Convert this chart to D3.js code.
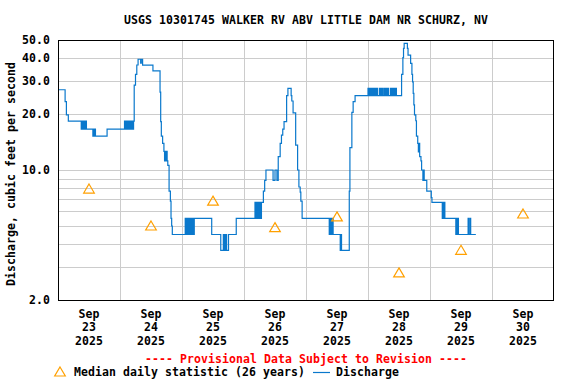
<!DOCTYPE html>
<html>
<head>
<meta charset="utf-8">
<script src="https://cdn.jsdelivr.net/npm/d3@7"></script>
<style>
  body { margin: 0; background: #fff; }
  text { font-family: "DejaVu Sans Mono", monospace; font-weight: bold; font-size: 11.5px; letter-spacing: 0.08px; }
</style>
</head>
<body>
<div id="chart"></div>
<script>
// chart data
const title = 'USGS 10301745 WALKER RV ABV LITTLE DAM NR SCHURZ, NV';
const yLabel = 'Discharge, cubic feet per second';
const yTicks = [2, 10, 20, 30, 40, 50];
const yGrid = [3, 4, 5, 6, 7, 8, 9, 10, 20, 30, 40];
const days = ['2025-09-23', '2025-09-24', '2025-09-25', '2025-09-26', '2025-09-27', '2025-09-28', '2025-09-29', '2025-09-30'];
const medianValues = [7.9, 5.0, 6.8, 4.9, 5.6, 2.8, 3.7, 5.8];

// 15-minute discharge, only the points where the value changes
const discharge = [
  ['09-23 00:00', 27.0], ['09-23 02:45', 23.3], ['09-23 03:15', 19.8], ['09-23 04:00', 18.3],
  ['09-23 09:00', 16.6], ['09-23 09:15', 18.3], ['09-23 09:30', 16.6], ['09-23 09:45', 18.3], ['09-23 10:00', 16.6],
  ['09-23 10:15', 18.3], ['09-23 10:30', 16.6], ['09-23 10:45', 18.3], ['09-23 11:00', 16.6],
  ['09-23 13:30', 15.2], ['09-23 13:45', 16.6], ['09-23 14:00', 15.2], ['09-23 14:15', 16.6], ['09-23 14:30', 15.2],
  ['09-23 19:00', 16.6],
  ['09-24 01:45', 18.3], ['09-24 02:00', 16.6], ['09-24 02:15', 18.3], ['09-24 02:30', 16.6], ['09-24 02:45', 18.3],
  ['09-24 03:00', 16.6], ['09-24 03:15', 18.3], ['09-24 03:30', 16.6], ['09-24 03:45', 18.3], ['09-24 04:00', 16.6],
  ['09-24 04:15', 18.3], ['09-24 04:30', 16.6], ['09-24 04:45', 18.3], ['09-24 05:00', 16.6], ['09-24 05:15', 18.3],
  ['09-24 05:30', 28.6], ['09-24 06:00', 32.7], ['09-24 06:30', 36.7], ['09-24 07:00', 39.4], ['09-24 08:00', 37.5],
  ['09-24 08:15', 39.4], ['09-24 08:45', 36.6], ['09-24 12:45', 34.1], ['09-24 15:30', 26.2], ['09-24 15:45', 18.2],
  ['09-24 16:00', 15.2], ['09-24 16:30', 13.9], ['09-24 17:00', 12.6], ['09-24 17:15', 11.2], ['09-24 17:30', 12.6],
  ['09-24 17:45', 11.2], ['09-24 18:00', 12.6], ['09-24 18:15', 11.2], ['09-24 18:30', 10.6], ['09-24 19:00', 7.7],
  ['09-24 19:30', 6.8], ['09-24 19:45', 5.5], ['09-24 20:00', 5.0], ['09-24 20:15', 4.5],
  ['09-25 01:15', 5.5], ['09-25 01:30', 4.5], ['09-25 01:45', 5.5], ['09-25 02:00', 4.5], ['09-25 02:15', 5.5],
  ['09-25 02:30', 4.5], ['09-25 02:45', 5.5], ['09-25 03:00', 4.5], ['09-25 03:15', 5.5], ['09-25 03:30', 4.5],
  ['09-25 03:45', 5.5], ['09-25 04:00', 4.5], ['09-25 04:15', 5.5], ['09-25 04:30', 4.5], ['09-25 04:45', 5.5],
  ['09-25 11:30', 4.5], ['09-25 15:00', 3.7], ['09-25 16:00', 4.5], ['09-25 16:15', 3.7], ['09-25 16:30', 4.5],
  ['09-25 16:45', 3.7], ['09-25 17:00', 4.5], ['09-25 17:15', 3.7], ['09-25 18:00', 4.5], ['09-25 21:00', 5.5],
  ['09-26 04:15', 6.7], ['09-26 04:30', 5.5], ['09-26 04:45', 6.7], ['09-26 05:00', 5.5], ['09-26 05:15', 6.7],
  ['09-26 05:30', 5.5], ['09-26 05:45', 6.7], ['09-26 06:00', 5.5], ['09-26 06:15', 6.7], ['09-26 06:30', 5.5],
  ['09-26 06:45', 6.7], ['09-26 07:30', 7.7], ['09-26 08:00', 8.8], ['09-26 08:30', 10.0], ['09-26 11:15', 8.8],
  ['09-26 12:00', 10.0], ['09-26 12:45', 8.8], ['09-26 13:15', 11.8], ['09-26 14:00', 13.9], ['09-26 14:30', 15.4],
  ['09-26 15:00', 16.6], ['09-26 15:30', 18.2], ['09-26 16:30', 25.1], ['09-26 17:00', 27.5], ['09-26 18:15', 25.1],
  ['09-26 18:30', 23.5], ['09-26 19:00', 20.3], ['09-26 20:00', 13.6], ['09-26 20:45', 10.0], ['09-26 21:15', 8.1],
  ['09-26 21:45', 7.6], ['09-26 22:00', 6.8], ['09-26 22:30', 5.5],
  ['09-27 09:00', 4.5], ['09-27 09:15', 5.5], ['09-27 09:30', 4.5], ['09-27 09:45', 5.5], ['09-27 10:00', 4.5],
  ['09-27 10:15', 5.5], ['09-27 10:30', 4.5], ['09-27 13:15', 3.7], ['09-27 13:30', 4.5], ['09-27 13:45', 3.7],
  ['09-27 16:45', 7.7], ['09-27 17:00', 13.2], ['09-27 17:45', 20.4], ['09-27 18:15', 23.3], ['09-27 19:00', 25.1],
  ['09-28 00:00', 27.5], ['09-28 00:15', 25.1], ['09-28 00:30', 27.5], ['09-28 00:45', 25.1], ['09-28 01:00', 27.5],
  ['09-28 01:15', 25.1], ['09-28 01:30', 27.5], ['09-28 01:45', 25.1], ['09-28 02:00', 27.5], ['09-28 02:15', 25.1],
  ['09-28 02:30', 27.5], ['09-28 02:45', 25.1], ['09-28 03:00', 27.5], ['09-28 03:15', 25.1], ['09-28 03:30', 27.5],
  ['09-28 03:45', 25.1], ['09-28 04:30', 27.5], ['09-28 04:45', 25.1], ['09-28 05:00', 27.5], ['09-28 05:15', 25.1],
  ['09-28 05:30', 27.5], ['09-28 05:45', 25.1], ['09-28 06:15', 27.5], ['09-28 06:30', 25.1], ['09-28 06:45', 27.5],
  ['09-28 07:00', 25.1], ['09-28 07:15', 27.5], ['09-28 07:30', 25.1], ['09-28 07:45', 27.5], ['09-28 08:00', 25.1],
  ['09-28 08:45', 27.5], ['09-28 09:00', 25.1], ['09-28 09:15', 27.5], ['09-28 09:30', 25.1], ['09-28 09:45', 27.5],
  ['09-28 10:00', 25.1], ['09-28 10:15', 27.5], ['09-28 10:30', 25.1], ['09-28 10:45', 27.5], ['09-28 11:00', 25.1],
  ['09-28 13:00', 32.7], ['09-28 13:30', 40.2], ['09-28 13:45', 45.1], ['09-28 14:00', 48.0], ['09-28 15:15', 45.1],
  ['09-28 15:30', 41.5], ['09-28 16:30', 37.4], ['09-28 17:00', 32.7], ['09-28 17:15', 29.8], ['09-28 17:30', 25.8],
  ['09-28 17:45', 22.4], ['09-28 18:00', 19.8], ['09-28 18:30', 18.4], ['09-28 18:45', 15.2], ['09-28 19:15', 13.9],
  ['09-28 19:30', 12.5], ['09-28 19:45', 13.9], ['09-28 20:00', 11.8], ['09-28 20:30', 11.2], ['09-28 20:45', 10.0],
  ['09-28 21:15', 8.8], ['09-28 21:30', 10.0], ['09-28 21:45', 8.8], ['09-28 22:45', 7.7],
  ['09-29 00:30', 7.1], ['09-29 00:45', 6.7], ['09-29 04:45', 5.5], ['09-29 05:00', 6.7], ['09-29 05:15', 5.5],
  ['09-29 05:30', 6.7], ['09-29 05:45', 5.5], ['09-29 10:00', 4.5], ['09-29 10:15', 5.5], ['09-29 10:30', 4.5],
  ['09-29 10:45', 5.5], ['09-29 11:00', 4.5], ['09-29 14:45', 5.5], ['09-29 15:00', 4.5], ['09-29 15:30', 5.5],
  ['09-29 15:45', 4.5], ['09-29 17:45', 4.5]
];

const width = 576;
const height = 384;
const marginTop = 40;
const marginRight = 22;
const marginBottom = 84;
const marginLeft = 58;

const parseTime = d3.timeParse('%Y-%m-%d %H:%M');
const parseDay = d3.timeParse('%Y-%m-%d');
const series = discharge.map(d => ({ t: parseTime('2025-' + d[0]), v: d[1] }));
const noon = days.map(d => d3.timeHour.offset(parseDay(d), 12));

const svg = d3.select('#chart')
  .append('svg')
  .attr('width', width)
  .attr('height', height);

const x = d3.scaleTime()
  .domain([parseDay('2025-09-23'), parseDay('2025-10-01')])
  .range([marginLeft, width - marginRight]);

const y = d3.scaleLog()
  .domain([2, 50])
  .range([height - marginBottom, marginTop]);

// grid
svg.append('g')
  .attr('stroke', '#cccccc')
  .attr('shape-rendering', 'crispEdges')
  .selectAll('line')
  .data(yGrid)
  .join('line')
  .attr('x1', marginLeft).attr('x2', width - marginRight)
  .attr('y1', d => Math.round(y(d)) + 0.5).attr('y2', d => Math.round(y(d)) + 0.5);

svg.append('g')
  .attr('stroke', '#cccccc')
  .attr('shape-rendering', 'crispEdges')
  .selectAll('line')
  .data(d3.timeDay.range(parseDay('2025-09-24'), parseDay('2025-10-01')))
  .join('line')
  .attr('x1', d => Math.round(x(d)) + 0.5).attr('x2', d => Math.round(x(d)) + 0.5)
  .attr('y1', marginTop).attr('y2', height - marginBottom);

// y axis labels
svg.append('g')
  .attr('transform', `translate(${marginLeft},0)`)
  .call(d3.axisLeft(y).tickValues(yTicks).tickFormat(d3.format('.1f')).tickSize(0).tickPadding(8))
  .call(g => g.select('.domain').remove())
  .call(g => g.selectAll('text').attr('fill', '#000').attr('font-size', null).attr('font-family', null));

// x axis labels: Sep / dd / yyyy at noon
const xl = svg.append('g')
  .selectAll('text')
  .data(noon)
  .join('text')
  .attr('text-anchor', 'middle')
  .attr('x', d => x(d));
xl.append('tspan').attr('x', d => x(d)).attr('y', 318).text(d3.timeFormat('%b'));
xl.append('tspan').attr('x', d => x(d)).attr('y', 331).text(d3.timeFormat('%d'));
xl.append('tspan').attr('x', d => x(d)).attr('y', 345).text(d3.timeFormat('%Y'));

// discharge line
const line = d3.line()
  .x(d => x(d.t))
  .y(d => y(d.v))
  .curve(d3.curveStepAfter);

svg.append('path')
  .datum(series)
  .attr('fill', 'none')
  .attr('stroke', '#0a78cc')
  .attr('stroke-width', 1.2)
  .attr('d', line);

// median triangles
const tri = 'M0,-5L5.3,4L-5.3,4Z';
svg.append('g')
  .selectAll('path')
  .data(medianValues)
  .join('path')
  .attr('transform', (d, i) => `translate(${x(noon[i])},${y(d)})`)
  .attr('d', tri)
  .attr('fill', 'none')
  .attr('stroke', '#ffa000')
  .attr('stroke-width', 1.2);

// frame
svg.append('rect')
  .attr('x', marginLeft + 0.5).attr('y', marginTop + 0.5)
  .attr('width', width - marginLeft - marginRight - 1)
  .attr('height', height - marginTop - marginBottom)
  .attr('fill', 'none')
  .attr('stroke', '#000')
  .attr('shape-rendering', 'crispEdges');

// title
svg.append('text')
  .attr('x', (marginLeft + width - marginRight) / 2)
  .attr('y', 24)
  .attr('text-anchor', 'middle')
  .text(title);

svg.append('text')
  .attr('transform', `translate(15,${(marginTop + height - marginBottom) / 2 + 4}) rotate(-90)`)
  .attr('text-anchor', 'middle')
  .text(yLabel);

svg.append('text')
  .attr('x', 306)
  .attr('y', 363)
  .attr('text-anchor', 'middle')
  .attr('fill', '#ff0000')
  .text('---- Provisional Data Subject to Revision ----');

// legend
svg.append('path')
  .attr('transform', 'translate(60,372)')
  .attr('d', tri)
  .attr('fill', 'none')
  .attr('stroke', '#ffa000')
  .attr('stroke-width', 1.2);
svg.append('text').attr('x', 74).attr('y', 376).text('Median daily statistic (26 years)');
svg.append('line')
  .attr('x1', 313).attr('x2', 330).attr('y1', 372.5).attr('y2', 372.5)
  .attr('stroke', '#0a78cc').attr('stroke-width', 1.2);
svg.append('text').attr('x', 336).attr('y', 376).text('Discharge');
</script>
</body>
</html>
